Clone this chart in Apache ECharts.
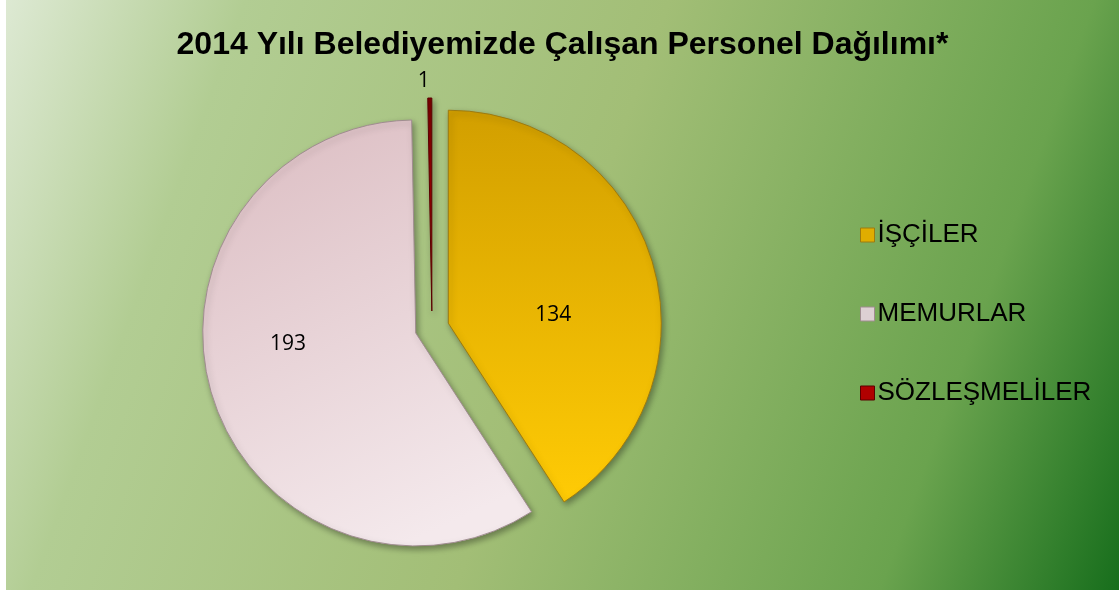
<!DOCTYPE html>
<html>
<head>
<meta charset="utf-8">
<script src="https://cdn.jsdelivr.net/npm/echarts@6/dist/echarts.min.js"></script>
<style>
  html, body { margin: 0; padding: 0; background: #fff; }
  #chart {
    position: absolute; left: 6px; top: 0; width: 1113px; height: 590px;
    background: linear-gradient(110deg, #dde9d3 0%, #b2cd93 18%, #a2be76 50%, #6aa34e 82%, #176e1c 100%);
  }
</style>
</head>
<body>
<div id="chart"></div>
<script>
const categories = ['İŞÇİLER', 'MEMURLAR', 'SÖZLEŞMELİLER']
const values = [134, 193, 1]
const titleText = '2014 Yılı Belediyemizde Çalışan Personel Dağılımı*'

const grad = (a, b, x2, y2) => new echarts.graphic.LinearGradient(0, 0, x2, y2, [
  { offset: 0, color: a }, { offset: 1, color: b }
])
const fills = [
  grad('#d29f00', '#ffcb05', 0, 1),
  grad('#dbbcc1', '#f4e9ec', 0.6, 1),
  grad('#7a0000', '#c00000', 0, 1)
]
const edges = ['#9c7a10', '#a08c90', '#5a0000']
const legendColors = ['#e0ad00', '#ddd0d3', '#b00000']

const chart = echarts.init(document.getElementById('chart'))

// empty lines nudge the inside labels down / up to where the original put them
const labelFor = (i) => {
  if (i === 2) return { position: 'outside', distanceToLabelLine: 0 }
  if (i === 0) return { position: 'inside', formatter: '\n{c}', lineHeight: 46 }
  return { position: 'inside', formatter: '{c}\n', lineHeight: 42, padding: [0, 46, 0, 0] }
}

const data = categories.map((name, i) => ({
  name,
  value: values[i],
  selected: true,
  itemStyle: { color: fills[i], borderColor: edges[i] },
  label: labelFor(i),
  labelLine: { show: false, length: 17, length2: 0 }
}))

chart.setOption({
  animation: false,
  title: {
    text: titleText,
    left: 'center',
    top: 24,
    textStyle: { fontFamily: 'Liberation Sans', fontWeight: 'bold', fontSize: 32, color: '#000' }
  },
  legend: {
    orient: 'vertical',
    left: 849,
    top: 217,
    itemGap: 53,
    itemWidth: 14,
    itemHeight: 14,
    icon: 'rect',
    data: categories.map((name, i) => ({ name, itemStyle: { color: legendColors[i], borderColor: edges[i], borderWidth: 1 } })),
    textStyle: { fontFamily: 'Liberation Sans', fontSize: 26, color: '#000', padding: [0, 0, 0, -2] }
  },
  series: [{
    type: 'pie',
    center: [426, 328],
    radius: 213,
    startAngle: 90,
    clockwise: true,
    selectedMode: 'multiple',
    selectedOffset: 17,
    avoidLabelOverlap: false,
    itemStyle: {
      borderWidth: 1,
      shadowBlur: 6,
      shadowOffsetX: 2,
      shadowOffsetY: 3,
      shadowColor: 'rgba(0,0,0,0.35)'
    },
    label: {
      show: true,
      formatter: '{c}',
      fontFamily: 'Open Sans',
      fontSize: 21,
      color: '#000'
    },
    emphasis: { disabled: true },
    data
  }]
})
</script>
</body>
</html>
